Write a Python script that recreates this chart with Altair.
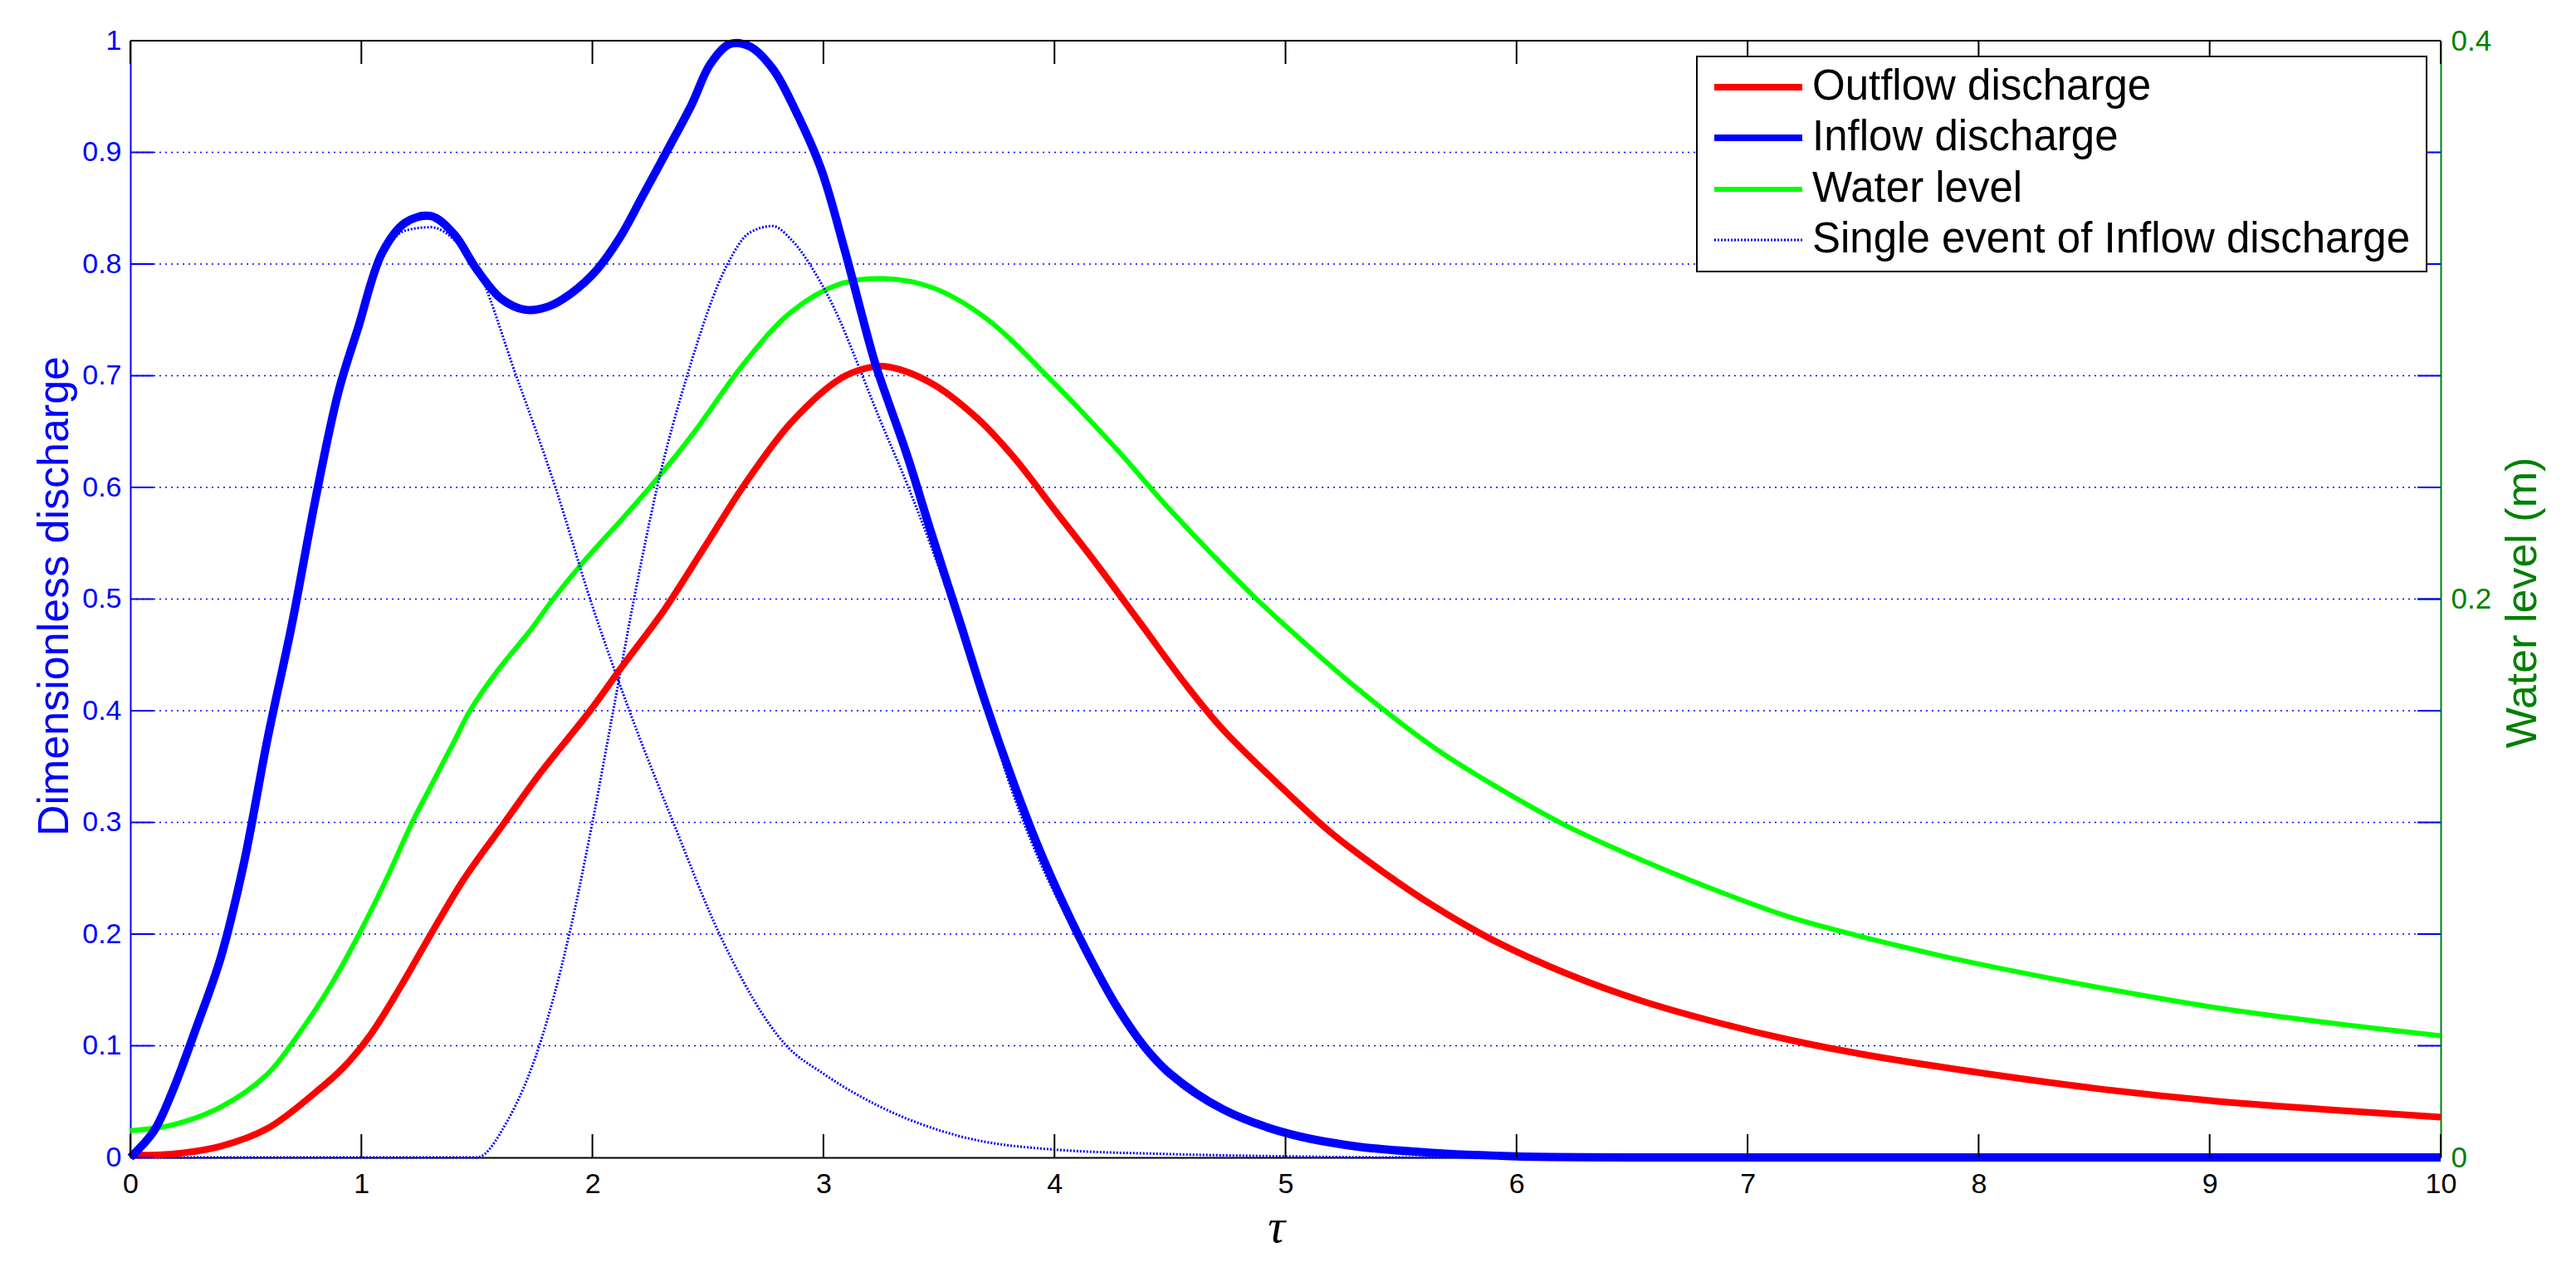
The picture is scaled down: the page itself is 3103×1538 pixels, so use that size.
import altair as alt
import pandas as pd

# ---------------- data ----------------
inflow_tau = [0, 0.1, 0.18, 0.285, 0.39, 0.49, 0.594, 0.70, 0.80, 0.90,
              0.986, 1.09, 1.19, 1.30, 1.40, 1.50, 1.605, 1.71, 1.81, 1.91,
              2.02, 2.12, 2.22, 2.33, 2.43, 2.51, 2.595, 2.68, 2.78, 2.88,
              2.99, 3.09, 3.19, 3.23, 3.36, 3.47, 3.59, 3.70, 3.82, 3.93,
              4.05, 4.16, 4.27, 4.39, 4.50, 4.73, 5.0, 5.3, 5.65, 6.0,
              7.0, 8.0, 9.0, 10.0]
inflow_val = [0, 0.023, 0.058, 0.116, 0.178, 0.262, 0.375, 0.478, 0.588, 0.685,
              0.743, 0.81, 0.837, 0.843, 0.827, 0.795, 0.769, 0.759, 0.762, 0.774,
              0.795, 0.824, 0.862, 0.904, 0.943, 0.979, 0.997, 0.995, 0.975, 0.937,
              0.885, 0.814, 0.736, 0.707, 0.63, 0.557, 0.48, 0.408, 0.337, 0.278,
              0.222, 0.176, 0.135, 0.099, 0.075, 0.043, 0.022, 0.01, 0.004, 0.001,
              0, 0, 0, 0]

outflow_tau = [0, 0.18, 0.39, 0.594, 0.80, 0.92, 1.04, 1.17, 1.29, 1.44,
               1.62, 1.77, 1.99, 2.13, 2.31, 2.49, 2.66, 2.86, 3.07, 3.19,
               3.28, 3.47, 3.66, 3.82, 4.0, 4.18, 4.37, 4.57, 4.73, 5.0,
               5.19, 5.42, 5.65, 5.904, 6.225, 6.545, 6.866, 7.187, 7.508, 8.0,
               8.5, 9.0, 9.5, 10.0]
outflow_val = [0.002, 0.003, 0.01, 0.026, 0.058, 0.08, 0.11, 0.153, 0.196, 0.248,
               0.3, 0.343, 0.4, 0.44, 0.49, 0.548, 0.603, 0.658, 0.697, 0.707,
               0.708, 0.693, 0.663, 0.628, 0.58, 0.532, 0.479, 0.423, 0.383, 0.328,
               0.292, 0.256, 0.224, 0.194, 0.164, 0.140, 0.121, 0.105, 0.092, 0.076,
               0.062, 0.051, 0.043, 0.036]

level_tau = [0, 0.18, 0.39, 0.59, 0.72, 0.87, 0.99, 1.11, 1.22, 1.32,
             1.41, 1.47, 1.59, 1.735, 1.83, 1.96, 2.13, 2.24, 2.36, 2.45,
             2.66, 2.86, 3.07, 3.26, 3.47, 3.70, 4.0, 4.27, 4.50, 4.85,
             5.0, 5.31, 5.65, 5.904, 6.225, 6.545, 6.866, 7.187, 7.508, 7.829,
             8.149, 8.5, 9.0, 9.5, 10.0]
level_m = [0.0096, 0.0116, 0.018, 0.0296, 0.0432, 0.062, 0.08, 0.1, 0.12, 0.136,
           0.1504, 0.16, 0.1744, 0.1892, 0.2, 0.2132, 0.2288, 0.2392, 0.2512, 0.2608,
           0.2848, 0.3028, 0.3128, 0.3148, 0.3116, 0.3008, 0.2772, 0.2536, 0.232, 0.202,
           0.1904, 0.168, 0.1464, 0.1332, 0.1184, 0.1064, 0.0956, 0.086, 0.0788, 0.0724,
           0.0668, 0.0612, 0.054, 0.0484, 0.0436]

event1_tau = [0, 0.1, 0.18, 0.285, 0.39, 0.49, 0.594, 0.70, 0.80, 0.90,
              0.986, 1.09, 1.19, 1.30, 1.42, 1.49, 1.67, 1.84, 1.99, 2.16,
              2.35, 2.55, 2.84, 3.0, 3.24, 3.59, 4.0, 4.5, 5.0, 5.5,
              6.0, 10.0]
event1_val = [0, 0.022, 0.057, 0.115, 0.177, 0.26, 0.372, 0.475, 0.585, 0.68,
              0.738, 0.805, 0.830, 0.833, 0.818, 0.80, 0.70, 0.60, 0.50, 0.40,
              0.30, 0.20, 0.10, 0.075, 0.046, 0.019, 0.007, 0.003, 0.001, 0,
              0, 0]

event2_tau = [0, 1.5, 1.63, 1.77, 1.90, 2.0, 2.09, 2.18, 2.28, 2.41,
              2.585, 2.68, 2.78, 2.86, 2.97, 3.07, 3.13, 3.24, 3.36, 3.47,
              3.59, 3.70, 3.82, 3.93, 4.05, 4.16, 4.27, 4.39, 4.5, 4.73,
              5.0, 5.3, 5.65, 6.0, 10.0]
event2_val = [0, 0, 0.032, 0.1, 0.2, 0.3, 0.4, 0.5, 0.6, 0.7,
              0.8, 0.828, 0.834, 0.822, 0.79, 0.75, 0.72, 0.663, 0.604, 0.545,
              0.474, 0.403, 0.326, 0.268, 0.216, 0.172, 0.131, 0.096, 0.072, 0.041,
              0.021, 0.01, 0.004, 0.001, 0]

x_ticks = [0, 1, 2, 3, 4, 5, 6, 7, 8, 9, 10]
left_ticks = [0, 0.1, 0.2, 0.3, 0.4, 0.5, 0.6, 0.7, 0.8, 0.9, 1]
right_ticks = [0, 0.2, 0.4]

legend_labels = ["Outflow discharge", "Inflow discharge", "Water level",
                 "Single event of Inflow discharge"]

# ---------------- styling ----------------
W, H = 2783, 1345
FONT = "Liberation Sans"
BLUE = "#0000ff"
RED = "#ff0000"
GREEN = "#00ff00"
DKGREEN = "#008000"
TICK = 28

xscale = alt.Scale(domain=[0, 10], nice=False, zero=False)
lscale = alt.Scale(domain=[0, 1], nice=False, zero=False)
rscale = alt.Scale(domain=[0, 0.4], nice=False, zero=False)

x_axis = alt.Axis(values=x_ticks, format="d", labelFont=FONT, labelFontSize=34,
                  labelColor="black", labelPadding=15, labelFlush=False,
                  labelOverlap=False, ticks=False, tickSize=0, grid=False,
                  domain=True, domainColor="black", domainWidth=2,
                  title="τ", titleFont="Liberation Serif", titleFontStyle="italic",
                  titleFontWeight="normal", titleFontSize=58, titleColor="black",
                  titleX=1380, titleY=84, titleBaseline="middle", titleAlign="center")

left_axis = alt.Axis(orient="left", values=left_ticks, format="~g", labelFont=FONT,
                     labelFontSize=34, labelColor=BLUE, labelPadding=11,
                     labelFlush=False, labelOverlap=False, ticks=False, tickSize=0,
                     grid=False, domain=True, domainColor=BLUE, domainWidth=2,
                     title="Dimensionless discharge", titleFont=FONT, titleFontSize=52,
                     titleFontWeight="normal", titleColor=BLUE, titleAngle=270,
                     titleX=-92, titleY=H / 2 - 4, titleAlign="center",
                     titleBaseline="middle")

right_axis = alt.Axis(orient="right", values=right_ticks, format="~g", labelFont=FONT,
                      labelFontSize=35, labelColor=DKGREEN, labelPadding=12,
                      labelFlush=False, labelOverlap=False, ticks=False, tickSize=0,
                      grid=False, domain=True, domainColor=DKGREEN, domainWidth=2,
                      title="Water level (m)", titleFont=FONT, titleFontSize=52,
                      titleFontWeight="normal", titleColor=DKGREEN, titleAngle=270,
                      titleX=98, titleY=H / 2 + 4, titleAlign="center",
                      titleBaseline="middle")

X = alt.X("tau:Q", scale=xscale, axis=x_axis)
YL = alt.Y("v:Q", scale=lscale, axis=left_axis)
YR = alt.Y("m:Q", scale=rscale, axis=right_axis)

inflow_df = pd.DataFrame({"tau": inflow_tau, "v": inflow_val})
outflow_df = pd.DataFrame({"tau": outflow_tau, "v": outflow_val})
level_df = pd.DataFrame({"tau": level_tau, "m": level_m})
events_df = pd.concat([
    pd.DataFrame({"tau": event1_tau, "v": event1_val, "ev": "1"}),
    pd.DataFrame({"tau": event2_tau, "v": event2_val, "ev": "2"}),
])

# grid lines (horizontal dotted, blue)
grid = alt.Chart(pd.DataFrame({"v": left_ticks[1:-1]})).mark_rule(
    color=BLUE, strokeWidth=1.5, strokeDash=[2, 5]
).encode(
    y=alt.Y("v:Q", scale=lscale, axis=None),
    x=alt.value(0), x2=alt.value(W),
)

# right (water level) group
level_line = alt.Chart(level_df).mark_line(
    color=GREEN, strokeWidth=6, interpolate="catmull-rom"
).encode(x=X, y=YR)
green_ticks = alt.Chart(pd.DataFrame({"m": right_ticks})).mark_rule(
    color=DKGREEN, strokeWidth=2
).encode(y=YR, x=alt.value(W - TICK), x2=alt.value(W))
right_group = alt.layer(level_line, green_ticks)

# left (discharge) group
events = alt.Chart(events_df).mark_line(
    color=BLUE, strokeWidth=3, strokeDash=[2, 2], interpolate="monotone"
).encode(x=X, y=YL, detail="ev:N")
outflow = alt.Chart(outflow_df).mark_line(
    color=RED, strokeWidth=8, interpolate="catmull-rom"
).encode(x=X, y=YL)
inflow = alt.Chart(inflow_df).mark_line(
    color=BLUE, strokeWidth=10, interpolate="catmull-rom"
).encode(x=X, y=YL)

lt_df = pd.DataFrame({"v": left_ticks})
left_ticks_l = alt.Chart(lt_df).mark_rule(color=BLUE, strokeWidth=2).encode(
    y=YL, x=alt.value(0), x2=alt.value(TICK))
left_ticks_r = alt.Chart(lt_df).mark_rule(color=BLUE, strokeWidth=2).encode(
    y=YL, x=alt.value(W - TICK), x2=alt.value(W))
xt_df = pd.DataFrame({"tau": x_ticks})
bottom_ticks = alt.Chart(xt_df).mark_rule(color="black", strokeWidth=2).encode(
    x=X, y=alt.value(H - TICK), y2=alt.value(H))
top_ticks = alt.Chart(xt_df).mark_rule(color="black", strokeWidth=2).encode(
    x=X, y=alt.value(0), y2=alt.value(TICK))
top_line = alt.Chart(pd.DataFrame({"a": [0]})).mark_rule(
    color="black", strokeWidth=2
).encode(x=alt.value(0), x2=alt.value(W), y=alt.value(0))

left_group = alt.layer(events, outflow, inflow, left_ticks_l, left_ticks_r,
                       bottom_ticks, top_ticks, top_line)

# legend (top right box)
LX0, LX1, LY0, LY1 = 1887, 2766, 19, 278
row_y = [56, 117, 179, 240]
sym_x0, sym_x1, txt_x = 1908, 2014, 2026
legend_layers = [
    alt.Chart(pd.DataFrame({"a": [0]})).mark_rect(
        fill="white", stroke="black", strokeWidth=2
    ).encode(x=alt.value(LX0), x2=alt.value(LX1), y=alt.value(LY0), y2=alt.value(LY1))
]
sym_styles = [
    dict(color=RED, strokeWidth=8),
    dict(color=BLUE, strokeWidth=8),
    dict(color=GREEN, strokeWidth=6),
    dict(color=BLUE, strokeWidth=3, strokeDash=[2, 2]),
]
for lab, yy, sty in zip(legend_labels, row_y, sym_styles):
    d = pd.DataFrame({"label": [lab]})
    legend_layers.append(
        alt.Chart(d).mark_rule(**sty).encode(
            x=alt.value(sym_x0), x2=alt.value(sym_x1), y=alt.value(yy))
    )
    legend_layers.append(
        alt.Chart(d).mark_text(align="left", baseline="middle", font=FONT,
                               fontSize=51, color="black").encode(
            x=alt.value(txt_x), y=alt.value(yy), text="label:N")
    )

chart = alt.layer(grid, right_group, left_group, *legend_layers).resolve_scale(
    y="independent"
).properties(
    width=W, height=H,
    autosize=alt.AutoSizeParams(type="none"),
    padding={"left": 149, "top": 41, "right": 150, "bottom": 130},
    background="white",
).configure_view(stroke=None)

chart.save("out.html", embed_options={"renderer": "svg", "actions": False})
